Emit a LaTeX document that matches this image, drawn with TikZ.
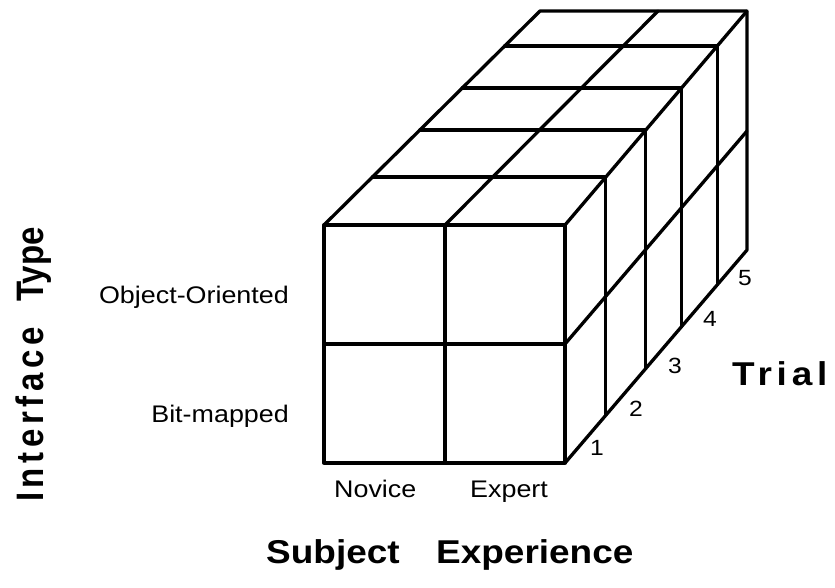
\documentclass[tikz,border=0pt]{standalone}
\usepackage{fontspec}
\usepackage{graphicx}
\setmainfont{Liberation Sans}
\usetikzlibrary{calc}
\newcommand{\hstr}[1]{\scalebox{1.12}[1]{#1}}
\newcommand{\vstr}[1]{\scalebox{1}[1.16]{#1}}
\begin{document}
\begin{tikzpicture}[x=1pt,y=-1pt,
  edge/.style={line width=3.3pt, line cap=round, line join=round},
  lab/.style={inner sep=0pt, font=\fontsize{24}{28}\selectfont},
  num/.style={inner sep=0pt, anchor=base west, font=\fontsize{22}{26}\selectfont},
  big/.style={inner sep=0pt, anchor=base west, font=\fontsize{33}{38}\selectfont\bfseries}]
\useasboundingbox (0,0) rectangle (835,587);
% front face
\coordinate (A) at (324,225);
\coordinate (B) at (445,225);
\coordinate (C) at (565,225);
\coordinate (D) at (324,344);
\coordinate (E) at (565,344);
\coordinate (F) at (324,463);
\coordinate (G) at (445,463);
\coordinate (H) at (565,463);
% back layer
\coordinate (P5) at (540,11);
\coordinate (M5) at (658,11);
\coordinate (R5) at (747,11);
\coordinate (Q5) at (747,131);
\coordinate (S5) at (747,250);
\foreach \k/\t in {1/0.2243, 2/0.4439, 3/0.6402, 4/0.8364}{
  \coordinate (L\k) at ($(A)!\t!(P5)$);
  \coordinate (R\k) at ($(C)!\t!(R5)$);
  \coordinate (B\k) at ($(H)!\t!(S5)$);
  \draw[edge] (L\k) -- (R\k) -- (B\k);
}
\draw[edge] (A) -- (P5) -- (R5) -- (S5) -- (H);
\draw[edge] (C) -- (R5);
\draw[edge] (B) -- (M5);
\draw[edge] (E) -- (Q5);
\draw[edge] (A) -- (C) -- (H) -- (F) -- cycle;
\draw[edge] (B) -- (G);
\draw[edge] (D) -- (E);
% trial numbers
\node[num] (n1) at (590,455) {\hstr{1}};
\node[num] (n2) at (629,416) {\hstr{2}};
\node[num] (n3) at (668,373) {\hstr{3}};
\node[num] (n4) at (703,326) {\hstr{4}};
\node[num] (n5) at (738,285) {\hstr{5}};
% level labels
\node[lab, anchor=base east] (oo) at (289,303) {\hstr{Object-Oriented}};
\node[lab, anchor=base east] (bm) at (289,422) {\hstr{Bit-mapped}};
\node[lab, anchor=base west] (nov) at (334,497) {\hstr{Novice}};
\node[lab, anchor=base west] (exp) at (470,497) {\hstr{Expert}};
% axis titles
\node[big] (subj) at (266,563) {\hstr{Subject}};
\node[big] (expr) at (436,563) {\hstr{Experience}};
\node[big] (trial) at (732,385) {\hstr{\addfontfeature{LetterSpace=13}Trial}};
\node[big, rotate=90] (intf) at (43,502) {\vstr{\addfontfeature{LetterSpace=14}Interface}};
\node[big, rotate=90] (typ) at (43,302) {\vstr{Type}};
\end{tikzpicture}
\end{document}
